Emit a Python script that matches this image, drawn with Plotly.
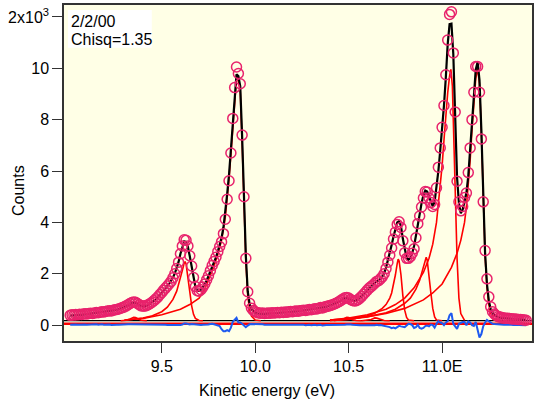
import numpy as np
import plotly.graph_objects as go

# ---------------- data (kcounts vs kinetic energy, eV) ----------------
energy_start = 9.01
energy_step = 0.01

counts = [
    0.38, 0.40, 0.39, 0.41, 0.40, 0.42, 0.41, 0.43, 0.44, 0.43,
    0.45, 0.46, 0.45, 0.47, 0.49, 0.48, 0.50, 0.52, 0.51, 0.53,
    0.55, 0.56, 0.55, 0.58, 0.60, 0.61, 0.63, 0.66, 0.68, 0.71,
    0.75, 0.79, 0.84, 0.88, 0.90, 0.89, 0.84, 0.79, 0.75, 0.74,
    0.74, 0.77, 0.80, 0.85, 0.90, 0.96, 1.03, 1.10, 1.19, 1.27,
    1.36, 1.44, 1.52, 1.61, 1.70, 1.84, 2.00, 2.20, 2.45, 2.78,
    3.08, 3.32, 3.30, 3.08, 2.70, 2.30, 1.85, 1.50, 1.34, 1.32,
    1.38, 1.48, 1.60, 1.76, 1.92, 2.12, 2.32, 2.48, 2.64, 2.86,
    3.06, 3.24, 3.56, 4.12, 4.90, 5.62, 6.70, 8.05, 9.25, 10.05,
    9.80, 9.40, 7.40, 5.00, 2.60, 1.30, 0.85, 0.66, 0.57, 0.52,
    0.49, 0.47, 0.46, 0.47, 0.45, 0.46, 0.47, 0.46, 0.48, 0.47,
    0.48, 0.49, 0.48, 0.50, 0.49, 0.51, 0.50, 0.52, 0.53, 0.52,
    0.54, 0.55, 0.54, 0.56, 0.57, 0.58, 0.57, 0.59, 0.61, 0.60,
    0.62, 0.64, 0.63, 0.66, 0.68, 0.67, 0.70, 0.72, 0.74, 0.76,
    0.78, 0.81, 0.84, 0.88, 0.92, 0.97, 1.02, 1.06, 1.07, 1.05,
    1.00, 0.96, 0.94, 0.95, 0.99, 1.05, 1.12, 1.20, 1.28, 1.36,
    1.44, 1.50, 1.56, 1.63, 1.70, 1.73, 1.80, 1.88, 2.00, 2.20,
    2.45, 2.72, 3.00, 3.35, 3.62, 3.92, 4.02, 3.80, 3.28, 2.82,
    2.60, 2.60, 2.66, 2.80, 2.97, 3.40, 3.95, 4.25, 4.60, 4.95,
    5.20, 5.18, 4.95, 4.77, 4.62, 4.70, 5.35, 6.15, 6.90, 7.70,
    8.55, 9.75, 11.10, 12.10, 12.20, 10.60, 8.30, 5.60, 4.80, 4.45,
    4.62, 4.97, 5.14, 5.94, 6.90, 8.00, 9.07, 10.07, 10.07, 9.07,
    7.25, 4.80, 2.90, 1.80, 1.10, 0.71, 0.52, 0.43, 0.37, 0.33,
    0.31, 0.30, 0.28, 0.27, 0.27, 0.26, 0.25, 0.24, 0.24, 0.23,
    0.22, 0.22, 0.21, 0.20, 0.19,
]

fit = [
    0.37, 0.38, 0.38, 0.39, 0.39, 0.40, 0.40, 0.41, 0.42, 0.42,
    0.43, 0.44, 0.44, 0.45, 0.46, 0.47, 0.48, 0.49, 0.50, 0.51,
    0.53, 0.54, 0.55, 0.57, 0.58, 0.60, 0.62, 0.64, 0.66, 0.69,
    0.72, 0.76, 0.81, 0.85, 0.87, 0.86, 0.82, 0.77, 0.74, 0.73,
    0.73, 0.75, 0.79, 0.84, 0.89, 0.95, 1.01, 1.08, 1.16, 1.25,
    1.34, 1.43, 1.52, 1.61, 1.71, 1.85, 2.01, 2.21, 2.46, 2.78,
    3.06, 3.26, 3.24, 3.04, 2.68, 2.26, 1.82, 1.49, 1.34, 1.33,
    1.38, 1.47, 1.59, 1.73, 1.90, 2.08, 2.27, 2.45, 2.64, 2.86,
    3.10, 3.40, 3.80, 4.36, 5.10, 5.86, 6.80, 7.92, 9.05, 9.77,
    9.70, 9.30, 7.35, 5.00, 2.68, 1.32, 0.82, 0.62, 0.53, 0.48,
    0.45, 0.44, 0.44, 0.44, 0.44, 0.45, 0.45, 0.45, 0.46, 0.46,
    0.47, 0.47, 0.48, 0.48, 0.49, 0.49, 0.50, 0.51, 0.51, 0.52,
    0.53, 0.53, 0.54, 0.55, 0.56, 0.57, 0.58, 0.59, 0.60, 0.61,
    0.62, 0.63, 0.64, 0.66, 0.67, 0.69, 0.70, 0.72, 0.74, 0.76,
    0.78, 0.81, 0.84, 0.88, 0.93, 0.98, 1.02, 1.05, 1.05, 1.02,
    0.98, 0.95, 0.94, 0.96, 1.00, 1.06, 1.13, 1.21, 1.29, 1.37,
    1.45, 1.52, 1.58, 1.64, 1.69, 1.74, 1.80, 1.89, 2.03, 2.24,
    2.50, 2.80, 3.12, 3.45, 3.75, 4.00, 4.05, 3.85, 3.36, 2.90,
    2.62, 2.55, 2.62, 2.80, 3.08, 3.48, 3.94, 4.36, 4.74, 5.06,
    5.24, 5.20, 5.00, 4.75, 4.62, 4.80, 5.30, 6.00, 6.80, 7.62,
    8.55, 9.65, 10.95, 11.72, 11.74, 10.55, 8.35, 5.75, 4.75, 4.35,
    4.50, 4.85, 5.15, 5.80, 6.80, 8.00, 9.10, 9.95, 10.25, 9.55,
    7.60, 4.85, 2.80, 1.60, 0.95, 0.62, 0.47, 0.39, 0.34, 0.31,
    0.29, 0.28, 0.27, 0.26, 0.25, 0.25, 0.24, 0.24, 0.23, 0.23,
    0.22, 0.22, 0.21, 0.21, 0.20,
]

# fitted peak components
peak1_x = [9.28, 9.31, 9.33, 9.34, 9.35, 9.36, 9.37, 9.39, 9.42]
peak1_y = [0.17, 0.19, 0.24, 0.28, 0.30, 0.29, 0.25, 0.19, 0.17]

peak2_x = [9.30, 9.35, 9.40, 9.45, 9.50, 9.53, 9.56, 9.58, 9.60, 9.61, 9.62, 9.625,
           9.63, 9.64, 9.65, 9.66, 9.67, 9.68, 9.70, 9.72]
peak2_y = [0.19, 0.22, 0.27, 0.36, 0.52, 0.70, 1.00, 1.32, 1.80, 2.12, 2.42, 2.47,
           2.38, 1.92, 1.30, 0.75, 0.42, 0.26, 0.18, 0.17]

peak3_x = [9.30, 9.40, 9.50, 9.55, 9.60, 9.65, 9.70, 9.73, 9.76, 9.78, 9.80, 9.82,
           9.84, 9.85, 9.86, 9.87, 9.88, 9.89, 9.90, 9.905, 9.91, 9.92, 9.93, 9.94,
           9.95, 9.96, 9.97, 9.98, 10.00, 10.03]
peak3_y = [0.20, 0.26, 0.40, 0.50, 0.62, 0.80, 1.05, 1.40, 1.90, 2.30, 2.75, 3.30,
           4.20, 4.90, 5.70, 6.65, 7.75, 8.85, 9.60, 9.70, 9.45, 9.10, 7.10, 4.75,
           2.50, 1.15, 0.60, 0.35, 0.20, 0.17]

peak4_x = [10.42, 10.45, 10.47, 10.48, 10.49, 10.50, 10.51, 10.52, 10.54, 10.57]
peak4_y = [0.17, 0.19, 0.23, 0.27, 0.30, 0.29, 0.25, 0.21, 0.18, 0.17]

peak5_x = [10.57, 10.60, 10.62, 10.63, 10.64, 10.65, 10.66, 10.67, 10.69, 10.72]
peak5_y = [0.17, 0.19, 0.22, 0.25, 0.28, 0.27, 0.24, 0.21, 0.18, 0.17]

peak6_x = [10.40, 10.50, 10.55, 10.60, 10.64, 10.68, 10.70, 10.72, 10.73, 10.74,
           10.75, 10.76, 10.765, 10.77, 10.78, 10.79, 10.80, 10.81, 10.82, 10.85]
peak6_y = [0.18, 0.22, 0.28, 0.36, 0.46, 0.65, 0.80, 1.05, 1.25, 1.55,
           1.95, 2.40, 2.57, 2.50, 1.95, 1.15, 0.58, 0.30, 0.20, 0.17]

peak7_x = [10.40, 10.50, 10.60, 10.70, 10.75, 10.80, 10.83, 10.86, 10.88, 10.89,
           10.90, 10.91, 10.915, 10.92, 10.93, 10.94, 10.95, 10.96, 10.97, 11.00]
peak7_y = [0.18, 0.23, 0.32, 0.48, 0.62, 0.85, 1.05, 1.40, 1.75, 2.00,
           2.30, 2.58, 2.64, 2.55, 2.00, 1.25, 0.65, 0.32, 0.20, 0.17]

peak8_x = [10.40, 10.50, 10.60, 10.70, 10.75, 10.80, 10.85, 10.90, 10.93, 10.95,
           10.97, 10.99, 11.00, 11.01, 11.02, 11.03, 11.04, 11.047, 11.055, 11.06,
           11.07, 11.08, 11.09, 11.10, 11.12]
peak8_y = [0.20, 0.27, 0.40, 0.62, 0.80, 1.05, 1.45, 2.05, 2.60, 3.15,
           4.00, 5.30, 6.20, 7.20, 8.20, 9.05, 9.70, 9.96, 9.30, 8.20,
           5.30, 2.60, 1.05, 0.45, 0.18]

peak9_x = [10.40, 10.50, 10.60, 10.70, 10.80, 10.90, 10.95, 11.00, 11.05, 11.08,
           11.10, 11.12, 11.13, 11.14, 11.15, 11.16, 11.17, 11.18, 11.19, 11.20,
           11.21, 11.22, 11.23, 11.24, 11.25, 11.26, 11.28, 11.31]
peak9_y = [0.20, 0.25, 0.33, 0.45, 0.65, 0.98, 1.25, 1.60, 2.25, 2.80,
           3.30, 4.00, 4.60, 5.40, 6.40, 7.60, 8.70, 9.60, 10.00, 9.40,
           7.50, 4.75, 2.70, 1.45, 0.80, 0.45, 0.22, 0.17]

components = [
    (peak1_x, peak1_y), (peak2_x, peak2_y), (peak3_x, peak3_y),
    (peak4_x, peak4_y), (peak5_x, peak5_y), (peak6_x, peak6_y),
    (peak7_x, peak7_y), (peak8_x, peak8_y), (peak9_x, peak9_y),
]

background_level = 0.17
zero_level = 0.05

x_ticks = [9.5, 10.0, 10.5, 11.0]
x_ticklabels = ["9.5", "10.0", "10.5", "11.0E"]
y_ticks = [0, 2, 4, 6, 8, 10, 12]
y_ticklabels = ["0", "2", "4", "6", "8", "10", "2x10<sup>3</sup>"]

x_range = [8.977, 11.481]
y_range = [-0.62, 12.466]

# ---------------- figure ----------------
energy = np.round(energy_start + energy_step * np.arange(len(counts)), 2)
residual = np.array(counts) - np.array(fit)

FONT = "Liberation Sans, Arial, Helvetica, sans-serif"
fig = go.Figure()

fig.add_trace(go.Scatter(x=x_range, y=[zero_level, zero_level], mode="lines",
                         line=dict(color="#FF0000", width=2.5), hoverinfo="skip"))
fig.add_trace(go.Scatter(x=x_range, y=[background_level, background_level], mode="lines",
                         line=dict(color="#000000", width=1.2), hoverinfo="skip"))
for cx, cy in components:
    fig.add_trace(go.Scatter(x=cx, y=cy, mode="lines",
                             line=dict(color="#FF0000", width=1.6)))
fig.add_trace(go.Scatter(x=energy, y=residual, mode="lines",
                         line=dict(color="#1E5AF0", width=2)))
fig.add_trace(go.Scatter(x=energy, y=fit, mode="lines",
                         line=dict(color="#000000", width=2.2)))
fig.add_trace(go.Scatter(x=energy, y=counts, mode="markers",
                         marker=dict(symbol="circle-open", size=10,
                                     line=dict(color="#E8236C", width=1.5),
                                     color="#E8236C")))

axis_common = dict(showline=True, mirror=True, linecolor="#333333", linewidth=1.5,
                   ticks="outside", ticklen=10, tickwidth=1.3, tickcolor="#333333",
                   showgrid=False, zeroline=False,
                   tickfont=dict(family=FONT, size=16, color="#000000"))

fig.update_layout(
    width=537, height=400,
    margin=dict(l=64, r=4, t=3, b=59),
    paper_bgcolor="#FFFFFF", plot_bgcolor="#FFFFE6",
    showlegend=False,
    font=dict(family=FONT, size=16, color="#000000"),
    xaxis=dict(range=x_range, tickvals=x_ticks, ticktext=x_ticklabels, **axis_common),
    yaxis=dict(range=y_range, tickvals=y_ticks, ticktext=y_ticklabels, **axis_common),
)

# white text box
fig.add_shape(type="rect", xref="paper", yref="paper",
              x0=(68 - 64) / 469, x1=(152 - 64) / 469,
              y0=(341 - 46) / 338, y1=(341 - 8) / 338,
              fillcolor="#FFFFFF", line=dict(width=0), layer="below")
fig.add_annotation(text="2/2/00", xref="paper", yref="paper",
                   x=(69 - 64) / 469, y=(341 - 9) / 338, xanchor="left", yanchor="top",
                   showarrow=False, font=dict(family=FONT, size=16))
fig.add_annotation(text="Chisq=1.35", xref="paper", yref="paper",
                   x=(69 - 64) / 469, y=(341 - 27) / 338, xanchor="left", yanchor="top",
                   showarrow=False, font=dict(family=FONT, size=16))
fig.add_annotation(text="Kinetic energy (eV)", xref="paper", yref="paper",
                   x=(267 - 64) / 469, y=(341 - 391) / 338, xanchor="center", yanchor="middle",
                   showarrow=False, font=dict(family=FONT, size=16))
fig.add_annotation(text="Counts", xref="paper", yref="paper", textangle=-90,
                   x=(19 - 64) / 469, y=(341 - 190) / 338, xanchor="center", yanchor="middle",
                   showarrow=False, font=dict(family=FONT, size=16))

fig.write_html("out.html")
